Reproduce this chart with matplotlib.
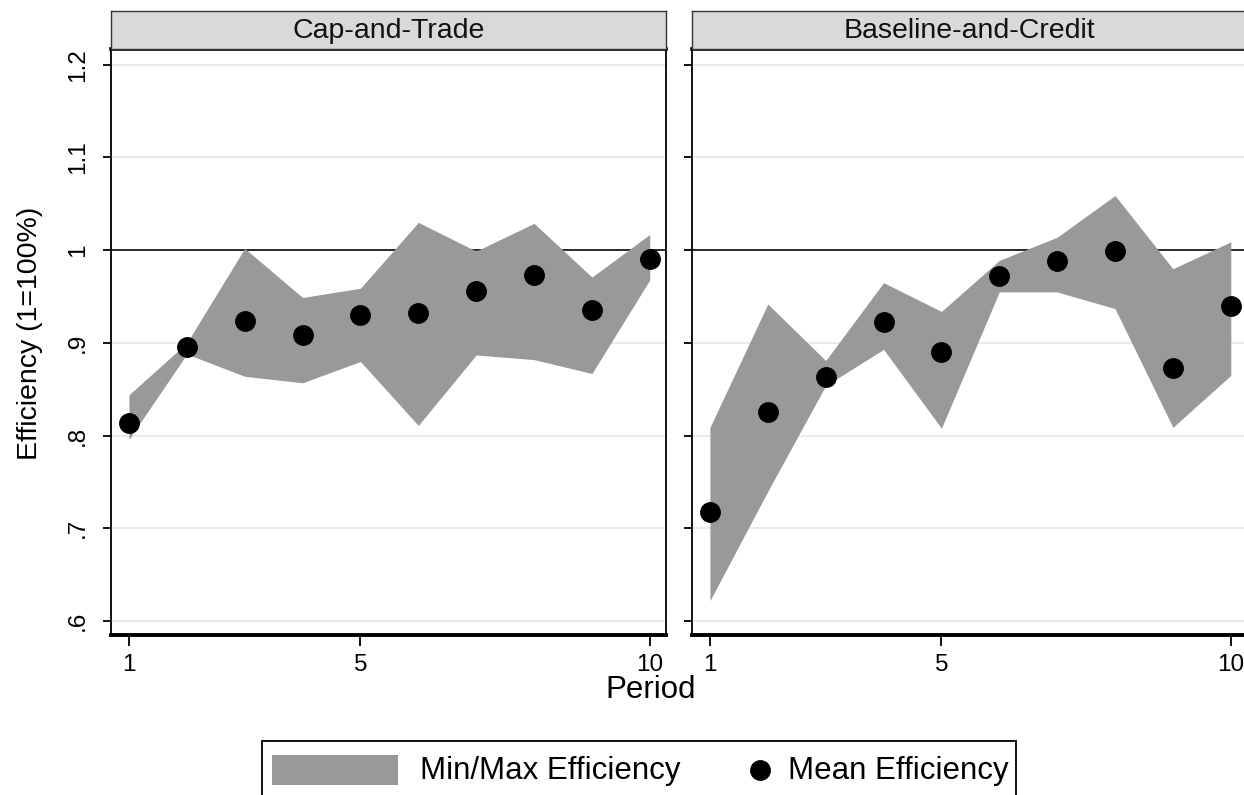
import matplotlib
matplotlib.use("Agg")
import matplotlib.pyplot as plt
from matplotlib.patches import Rectangle
from matplotlib.lines import Line2D

plt.rcParams['font.family'] = ['Liberation Sans', 'DejaVu Sans']

periods = [1, 2, 3, 4, 5, 6, 7, 8, 9, 10]
panel_titles = ["Cap-and-Trade", "Baseline-and-Credit"]

# Cap-and-Trade
ct_mean = [0.814, 0.896, 0.924, 0.909, 0.930, 0.932, 0.956, 0.973, 0.935, 0.990]
ct_max = [0.844, 0.900, 1.002, 0.949, 0.959, 1.030, 0.999, 1.029, 0.971, 1.017]
ct_min = [0.796, 0.888, 0.864, 0.857, 0.880, 0.811, 0.887, 0.882, 0.867, 0.968]

# Baseline-and-Credit
bc_mean = [0.718, 0.826, 0.863, 0.923, 0.890, 0.972, 0.988, 0.999, 0.873, 0.940]
bc_max = [0.809, 0.942, 0.881, 0.965, 0.934, 0.989, 1.014, 1.059, 0.980, 1.009]
bc_min = [0.622, 0.740, 0.854, 0.893, 0.808, 0.955, 0.955, 0.937, 0.809, 0.865]

y_ticks = [0.6, 0.7, 0.8, 0.9, 1.0, 1.1, 1.2]
y_ticklabels = [".6", ".7", ".8", ".9", "1", "1.1", "1.2"]
x_ticks = [1, 5, 10]
x_ticklabels = ["1", "5", "10"]
legend_labels = ["Min/Max Efficiency", "Mean Efficiency"]

W, H = 1244, 795
fig = plt.figure(figsize=(W / 100, H / 100), dpi=100)


def fx(px):
    return px / W


def fy(py):
    return 1 - py / H


band_color = "#999999"
strip_color = "#d9d9d9"
marker_size = 14

panels = [
    (ct_mean, ct_min, ct_max),
    (bc_mean, bc_min, bc_max),
]
left_px = [111, 692]
ax_w_px = 555
top_px, bot_px = 49, 635
strip_top_px = 11

for i, (mean, lo, hi) in enumerate(panels):
    ax = fig.add_axes([fx(left_px[i]), fy(bot_px), ax_w_px / W, (bot_px - top_px) / H])
    ax.set_xlim(0.69, 10.28)
    ax.set_ylim(0.585, 1.217)
    for yv in y_ticks:
        ax.axhline(yv, color="#e8e8e8", lw=1.2, zorder=0)
    ax.axhline(1.0, color="#2a2a2a", lw=1.4, zorder=1)
    ax.fill_between(periods, lo, hi, color=band_color, lw=0, zorder=2)
    ax.plot(periods, mean, "o", color="black", ms=marker_size, zorder=3)

    ax.set_xticks(x_ticks)
    ax.set_xticklabels(x_ticklabels)
    ax.set_yticks(y_ticks)
    if i == 0:
        ax.set_yticklabels(y_ticklabels, rotation=90, va="center")
    else:
        ax.set_yticklabels([])
    ax.tick_params(axis="x", length=8, width=1.3, color="black", labelsize=17.5, pad=6)
    ax.tick_params(axis="y", length=6, width=1.3, color="black", labelsize=17.5, pad=10)
    for s in ["left", "right"]:
        ax.spines[s].set_linewidth(1.3)
        ax.spines[s].set_color("black")
    ax.spines["top"].set_linewidth(2.6)
    ax.spines["bottom"].set_linewidth(2.8)

    sax = fig.add_axes([fx(left_px[i]), fy(top_px), ax_w_px / W, (top_px - strip_top_px) / H])
    sax.set_facecolor(strip_color)
    sax.set_xticks([])
    sax.set_yticks([])
    for s in sax.spines.values():
        s.set_color("#333333")
        s.set_linewidth(1.0)
    sax.text(0.5, 0.48, panel_titles[i], ha="center", va="center", fontsize=20.5,
             color="#111111", transform=sax.transAxes)

fig.text(fx(30), fy(333), "Efficiency (1=100%)", rotation=90, ha="center", va="center",
         fontsize=20.5)
fig.text(fx(651), fy(690), "Period", ha="center", va="center", fontsize=22.5)

# Legend box (its lower edge falls below the figure)
fig.add_artist(Rectangle((fx(262), fy(810)), fx(1016) - fx(262), fy(741) - fy(810),
                         transform=fig.transFigure, facecolor="white", edgecolor="black",
                         lw=1.3, clip_on=False))
fig.add_artist(Rectangle((fx(272), fy(785)), fx(398) - fx(272), fy(755) - fy(785),
                         transform=fig.transFigure, facecolor=band_color, edgecolor="none"))
fig.text(fx(420), fy(771), legend_labels[0], ha="left", va="center", fontsize=22.5)
fig.add_artist(Line2D([fx(760)], [fy(770)], transform=fig.transFigure, marker="o",
                      ls="none", color="black", ms=marker_size))
fig.text(fx(788), fy(771), legend_labels[1], ha="left", va="center", fontsize=22.5)

fig.savefig("out.png", dpi=100)
